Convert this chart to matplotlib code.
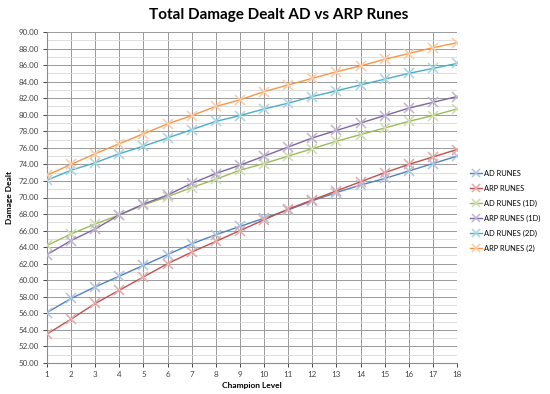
import numpy as np
import matplotlib.pyplot as plt
from matplotlib.ticker import MultipleLocator

plt.rcParams['font.family'] = ['Lato', 'DejaVu Sans']

levels = list(range(1, 19))

ad_runes = [56.1, 57.8, 59.2, 60.5, 61.8, 63.1, 64.4, 65.5, 66.5, 67.5, 68.5,
            69.6, 70.6, 71.5, 72.3, 73.2, 74.1, 75.0]
arp_runes = [53.5, 55.3, 57.2, 58.8, 60.4, 62.0, 63.4, 64.7, 66.0, 67.3, 68.6,
             69.7, 70.8, 71.9, 73.0, 74.0, 74.9, 75.8]
ad_runes_1d = [64.2, 65.6, 66.8, 67.9, 69.1, 70.1, 71.2, 72.2, 73.3, 74.1, 75.0,
               75.9, 76.8, 77.6, 78.4, 79.2, 79.9, 80.7]
arp_runes_1d = [63.1, 64.8, 66.2, 67.9, 69.2, 70.3, 71.7, 72.9, 73.9, 75.0, 76.1,
                77.2, 78.1, 79.0, 79.9, 80.8, 81.5, 82.2]
ad_runes_2d = [72.1, 73.3, 74.2, 75.3, 76.2, 77.2, 78.2, 79.2, 79.9, 80.7, 81.4,
               82.2, 82.9, 83.6, 84.3, 85.0, 85.6, 86.2]
arp_runes_2 = [72.7, 74.0, 75.3, 76.5, 77.7, 78.9, 79.9, 81.0, 81.8, 82.8, 83.6,
               84.4, 85.2, 85.9, 86.7, 87.4, 88.1, 88.7]

series = [
    ('AD RUNES', ad_runes, '#4F81BD', '#A9C4E6'),
    ('ARP RUNES', arp_runes, '#C0504D', '#E6A9A8'),
    ('AD RUNES (1D)', ad_runes_1d, '#9BBB59', '#CDDDAC'),
    ('ARP RUNES (1D)', arp_runes_1d, '#8064A2', '#C0B2D1'),
    ('AD RUNES (2D)', ad_runes_2d, '#4BACC6', '#A5D6E3'),
    ('ARP RUNES (2)', arp_runes_2, '#F79646', '#FBCBA3'),
]

fig = plt.figure(figsize=(5.5, 3.94), dpi=100)
ax = fig.add_axes([47/550, 1-363/394, (457-47)/550, (363-32)/394])

for name, vals, col, mcol in series:
    ax.plot(levels, vals, color=col, lw=1.0, marker='x', markersize=6.5,
            markeredgecolor=mcol, markeredgewidth=1.1, label=name, zorder=3)

ax.set_xlim(1, 18)
ax.set_ylim(50, 90)
ax.set_xticks(levels)
ax.yaxis.set_major_locator(MultipleLocator(2))
ax.yaxis.set_minor_locator(MultipleLocator(1))
ax.yaxis.set_major_formatter(lambda v, p: f'{v:.2f}')
ax.grid(which='major', axis='both', color='#9a9a9a', lw=0.7, zorder=0)
ax.grid(which='minor', axis='y', color='#d8d8d8', lw=0.6, zorder=0)
ax.tick_params(axis='both', which='major', labelsize=5.8, colors='#444444',
               length=3, width=0.7, pad=2.5)
ax.tick_params(axis='y', which='minor', length=0)
for s in ['top', 'right']:
    ax.spines[s].set_visible(False)
for s in ['left', 'bottom']:
    ax.spines[s].set_color('#8c8c8c')
    ax.spines[s].set_linewidth(0.8)

ax.set_xlabel('Champion Level', fontsize=6, fontweight='bold', labelpad=3)
ax.set_ylabel('Damage Dealt', fontsize=6, fontweight='bold', labelpad=4)
fig.text(0.507, 0.963, 'Total Damage Dealt AD vs ARP Runes', ha='center', va='center',
         fontsize=11, fontweight='bold')

ax.legend(loc='center left', bbox_to_anchor=(1.02, 0.46), frameon=False,
          fontsize=5.4, handlelength=1.6, labelspacing=1.05, handletextpad=0.3,
          borderaxespad=0.2, markerscale=0.8)

fig.savefig('out.png', dpi=100)
